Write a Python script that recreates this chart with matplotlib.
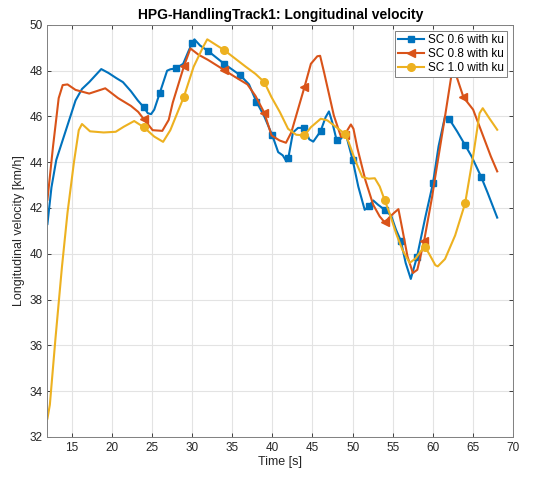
import matplotlib.pyplot as plt
import numpy as np

plt.rcParams['font.family'] = ['Liberation Sans', 'DejaVu Sans']

# SC 0.6 with ku
t_06 = [12.0, 12.5, 13.1, 14.3, 15.5, 16.3, 17.2, 18.7, 19.6, 20.6, 21.4, 22.4, 23.25,
        24.0, 24.5, 24.9, 25.3, 26.0, 26.9, 27.3, 28.0, 28.9, 29.5, 30.0, 30.3, 31.0,
        32.0, 33.0, 34.0, 35.0, 36.0, 37.1, 38.0, 38.7, 39.0, 40.0, 40.73, 41.3, 41.75,
        42.0, 42.57, 43.2, 44.0, 44.6, 45.1, 46.0, 46.64, 47.05, 47.46, 48.0, 48.56,
        49.1, 50.0, 50.7, 51.5, 52.0, 52.56, 53.17, 54.0, 54.8, 55.4, 56.0, 56.6, 57.24,
        58.0, 59.07, 60.0, 60.7, 61.5, 62.0, 63.0, 64.0, 64.8, 66.0, 66.8, 68.0]
v_06 = [41.3, 42.9, 44.1, 45.4, 46.7, 47.2, 47.5, 48.07, 47.9, 47.67, 47.5, 47.1, 46.7,
        46.4, 46.14, 46.1, 46.3, 47.04, 48.0, 48.06, 48.1, 48.3, 48.8, 49.2, 49.37, 49.1,
        48.86, 48.58, 48.3, 48.05, 47.8, 47.4, 46.65, 46.2, 46.0, 45.17, 44.44, 44.3, 44.04,
        44.2, 45.3, 45.5, 45.5, 45.0, 44.9, 45.35, 45.97, 46.22, 45.75, 44.97, 45.03,
        45.3, 44.1, 42.94, 41.92, 42.07, 42.33, 42.14, 41.92, 41.66, 41.05, 40.57, 39.6, 38.9,
        39.85, 41.63, 43.08, 44.7, 46.0, 45.9, 45.35, 44.75, 44.26, 43.36, 42.67, 41.58]
m_06 = [24.0, 26.0, 28.0, 30.0, 32.0, 34.0, 36.0, 38.0, 40.0, 42.0, 44.0, 46.0, 48.0,
        50.0, 52.0, 54.0, 56.0, 58.0, 60.0, 62.0, 64.0, 66.0]

# SC 0.8 with ku
t_08 = [12.0, 12.7, 13.4, 13.9, 14.5, 15.5, 17.2, 19.2, 20.8, 22.4, 23.3, 24.0, 25.1,
        26.3, 27.1, 27.6, 29.0, 29.8, 30.8, 32.0, 34.0, 35.3, 36.9, 37.9, 39.0, 39.9,
        40.9, 41.7, 42.36, 44.0, 44.8, 45.6, 45.95, 46.44, 47.66, 48.56, 49.0, 49.78,
        50.1, 50.6, 51.6, 52.56, 53.37, 54.0, 54.6, 55.2, 55.7, 56.2, 56.83, 57.5, 58.05,
        58.9, 59.9, 60.3, 61.5, 62.3, 62.6, 63.8, 65.0, 65.8, 67.2, 68.0]
v_08 = [42.36, 44.7, 46.8, 47.37, 47.4, 47.16, 47.0, 47.23, 46.8, 46.46, 46.2, 45.88, 45.4,
        45.37, 45.85, 46.6, 48.2, 48.97, 48.7, 48.47, 48.03, 47.74, 47.4, 46.9, 46.16, 45.17,
        44.95, 44.85, 45.3, 47.28, 48.3, 48.63, 48.65, 47.93, 46.04, 45.1, 45.2, 45.65,
        45.46, 44.6, 43.2, 42.14, 41.63, 41.37, 41.6, 41.8, 41.95, 41.05, 39.88, 39.16, 39.3,
        40.57, 42.5, 43.4, 46.0, 47.8, 48.1, 46.84, 46.3, 45.56, 44.26, 43.6]
m_08 = [24.0, 29.0, 34.0, 39.0, 44.0, 49.0, 54.0, 58.9, 63.8]

# SC 1.0 with ku
t_10 = [12.0, 12.3, 13.0, 13.8, 14.5, 15.3, 15.9, 16.3, 17.3, 19.0, 20.5, 21.5, 22.8,
        24.0, 25.3, 26.4, 27.3, 29.0, 30.2, 31.4, 31.9, 34.0, 36.7, 37.9, 39.0, 39.9,
        40.94, 41.96, 42.97, 44.0, 44.8, 46.03, 46.85, 47.86, 49.0, 49.5, 50.3, 51.2,
        52.0, 52.76, 53.37, 54.0, 54.6, 55.4, 56.2, 57.1, 57.85, 58.46, 59.0, 59.47,
        60.3, 60.6, 61.5, 62.76, 64.0, 65.0, 65.8, 66.2, 67.0, 68.0]
v_10 = [32.8, 33.4, 36.3, 39.4, 41.8, 44.0, 45.4, 45.67, 45.35, 45.3, 45.33, 45.55, 45.8,
        45.53, 45.12, 44.89, 45.4, 46.87, 48.17, 49.05, 49.37, 48.9, 48.17, 47.86, 47.5, 46.84,
        46.19, 45.46, 45.2, 45.17, 45.53, 45.9, 45.83, 45.56, 45.25, 44.88, 44.1, 43.35,
        43.28, 43.3, 42.94, 42.33, 41.77, 40.9, 40.17, 39.6, 39.8, 40.1, 40.29, 40.03,
        39.5, 39.45, 39.77, 40.8, 42.2, 44.26, 46.14, 46.36, 45.93, 45.42]
m_10 = [24.0, 29.0, 34.0, 39.0, 44.0, 49.0, 54.0, 59.0, 64.0]

labels = ['SC 0.6 with ku', 'SC 0.8 with ku', 'SC 1.0 with ku']
colors = ['#0072BD', '#D95319', '#EDB120']

fig = plt.figure(figsize=(5.33, 4.79), dpi=100)
ax = fig.add_axes([0.089, 0.088, 0.874, 0.860])

series = [(t_06, v_06, m_06, 's', 4.0),
          (t_08, v_08, m_08, '<', 6.0),
          (t_10, v_10, m_10, 'o', 5.5)]
for (t, v, m, mk, ms), lab, c in zip(series, labels, colors):
    t = np.array(t)
    idx = list(np.where(np.isin(t, m))[0])
    ax.plot(t, v, color=c, lw=1.5, marker=mk, ms=ms, markevery=idx,
            markerfacecolor=c, markeredgecolor=c, label=lab)

ax.set_xlim(12, 70)
ax.set_ylim(32, 50)
ax.set_xticks(np.arange(15, 71, 5))
ax.set_yticks(np.arange(32, 51, 2))
ax.grid(True, color='#e3e3e3', lw=0.8)
ax.set_axisbelow(True)
ax.tick_params(direction='in', length=3, width=0.6, top=True, right=True,
               colors='#262626', labelsize=8.5)
for s in ax.spines.values():
    s.set_color('#808080')
    s.set_linewidth(0.7)

ax.set_xlabel('Time [s]', fontsize=9, color='#262626', labelpad=2)
ax.set_ylabel('Longitudinal velocity [km/h]', fontsize=9, color='#262626', labelpad=3)
ax.set_title('HPG-HandlingTrack1: Longitudinal velocity', fontsize=10,
             fontweight='bold', pad=4)

leg = ax.legend(loc='upper right', fontsize=8.5, fancybox=False, framealpha=1,
                edgecolor='#808080', borderpad=0.3, labelspacing=0.15,
                handlelength=2.2, handletextpad=0.3, borderaxespad=0.5)
leg.get_frame().set_linewidth(0.7)

fig.savefig('out.png', dpi=100)
